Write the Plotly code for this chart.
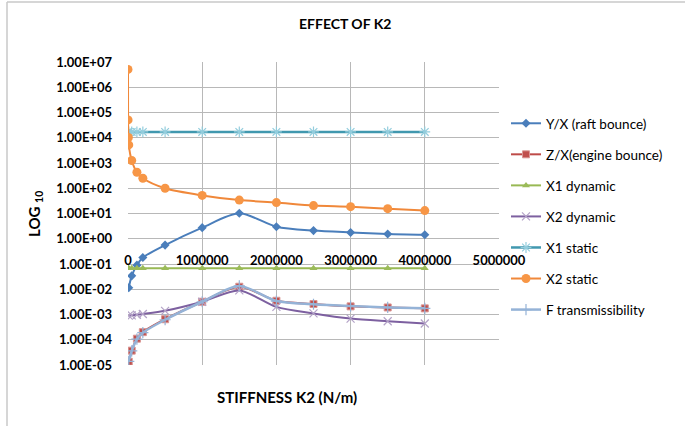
import plotly.graph_objects as go

k2 = [10, 1000, 5000, 10000, 50000, 120000, 200000, 500000,
      1000000, 1500000, 2000000, 2500000, 3000000, 3500000, 4000000]

yx_raft = [None, None, None, 0.0114, 0.034, 0.09, 0.18, 0.56,
           2.75, 10.2, 3.0, 2.1, 1.78, 1.55, 1.45]
zx_engine = [None, None, None, 1.35e-5, 3.7e-5, 1.1e-4, 2.0e-4, 6.5e-4,
             3.2e-3, 1.26e-2, 3.5e-3, 2.6e-3, 2.1e-3, 1.9e-3, 1.75e-3]
x1_dynamic = [0.068, 0.068, 0.068, 0.068, 0.068, 0.068, 0.068, 0.068,
              0.068, 0.068, 0.068, 0.068, 0.068, 0.068, 0.068]
x2_dynamic = [None, None, None, 9.0e-4, 9.3e-4, 9.8e-4, 1.05e-3, 1.4e-3,
              3.2e-3, 9.0e-3, 2.0e-3, 1.1e-3, 6.9e-4, 5.4e-4, 4.4e-4]
x1_static = [1.7e4, 1.7e4, 1.7e4, 1.7e4, 1.7e4, 1.7e4, 1.7e4, 1.7e4,
             1.7e4, 1.7e4, 1.7e4, 1.7e4, 1.7e4, 1.7e4, 1.7e4]
x2_static = [5.1e6, 5.1e4, 1.02e4, 5.2e3, 1.26e3, 430, 250, 100,
             52, 34, 27, 20.6, 18.6, 15.5, 13]
f_trans = [None, None, None, 1.4e-5, 3.6e-5, 1.05e-4, 1.9e-4, 6.2e-4,
           3.2e-3, 1.35e-2, 3.4e-3, 2.55e-3, 2.15e-3, 1.9e-3, 1.75e-3]

series_names = ["Y/X (raft bounce)", "Z/X(engine bounce)", "X1 dynamic", "X2 dynamic",
                "X1 static", "X2 static", "F transmissibility"]

x_tickvals = [0, 1000000, 2000000, 3000000, 4000000, 5000000]
x_ticktext = ["0", "1000000", "2000000", "3000000", "4000000", "5000000"]
y_tickvals = [1e-5, 1e-4, 1e-3, 1e-2, 1e-1, 1e0, 1e1, 1e2, 1e3, 1e4, 1e5, 1e6, 1e7]
y_ticktext = ["1.00E-05", "1.00E-04", "1.00E-03", "1.00E-02", "1.00E-01", "1.00E+00",
              "1.00E+01", "1.00E+02", "1.00E+03", "1.00E+04", "1.00E+05", "1.00E+06", "1.00E+07"]

FONT = "Lato, Carlito, Calibri, 'Liberation Sans', sans-serif"

styles = [
    dict(line=dict(color="#4A7EBB", width=2),
         marker=dict(symbol="diamond", size=7, color="#4A7EBB")),
    dict(line=dict(color="#BE4B48", width=2),
         marker=dict(symbol="square", size=7, color="#C0504D",
                     line=dict(color="#D99694", width=1))),
    dict(line=dict(color="#98B954", width=2),
         marker=dict(symbol="triangle-up", size=7, color="#9BBB59")),
    dict(line=dict(color="#7D60A0", width=2),
         marker=dict(symbol="x-thin-open", size=8, color="#B3A2C7",
                     line=dict(color="#B3A2C7", width=1.2))),
    dict(line=dict(color="#4198AF", width=2.5),
         marker=dict(symbol="asterisk-open", size=9, color="#93CDDD",
                     line=dict(color="#93CDDD", width=1.2))),
    dict(line=dict(color="#F0883A", width=2),
         marker=dict(symbol="circle", size=9, color="#F79646")),
    dict(line=dict(color="#95B3D7", width=2.5),
         marker=dict(symbol="cross-thin-open", size=8, color="#95B3D7",
                     line=dict(color="#95B3D7", width=1.2))),
]

data = [yx_raft, zx_engine, x1_dynamic, x2_dynamic, x1_static, x2_static, f_trans]

fig = go.Figure()
for i, (name, vals, st) in enumerate(zip(series_names, data, styles)):
    fig.add_trace(go.Scatter(
        x=k2, y=vals, name=name, mode="lines+markers",
        line=dict(shape="spline", smoothing=0.8, **st["line"]),
        marker=st["marker"], legendgroup=f"g{i}", connectgaps=False,
    ))

L, R, T, B = 128, 186, 62, 61
W, H = 685, 426
pw = W - L - R
ph = H - T - B

def px_x(p):
    return (p - L) / pw

def px_y(p):
    return (H - B - p) / ph

fig.update_layout(
    width=W, height=H,
    margin=dict(l=L, r=R, t=T, b=B, autoexpand=False),
    paper_bgcolor="white", plot_bgcolor="white",
    font=dict(family=FONT, color="black"),
    showlegend=True,
    legend=dict(x=px_x(506), y=px_y(108), xanchor="left", yanchor="top",
                traceorder="grouped", tracegroupgap=10.5,
                font=dict(family=FONT, size=13.5, color="black"),
                bgcolor="rgba(0,0,0,0)"),
    xaxis=dict(range=[0, 5000000], tickvals=x_tickvals, ticktext=x_ticktext,
               showgrid=True, gridcolor="#B8B8B8", gridwidth=1,
               zeroline=False, showline=False, ticks="",
               anchor="free", position=px_y(251),
               tickfont=dict(family=FONT, size=13, color="black", weight="bold")),
    yaxis=dict(type="log", range=[-5, 7], tickvals=y_tickvals, ticktext=y_ticktext,
               showgrid=True, gridcolor="#B8B8B8", gridwidth=1,
               zeroline=False, showline=False, ticks="", ticklabelstandoff=15,
               tickfont=dict(family=FONT, size=13, color="black", weight="bold")),
    annotations=[
        dict(text="<b>EFFECT OF K2</b>", x=px_x(345), y=px_y(23), xref="paper", yref="paper",
             xanchor="center", yanchor="middle",
             showarrow=False, font=dict(family=FONT, size=14, color="black")),
        dict(text="<b>STIFFNESS K2 (N/m)</b>", x=px_x(287), y=px_y(397), xref="paper", yref="paper",
             xanchor="center", yanchor="middle",
             showarrow=False, font=dict(family=FONT, size=15, color="black")),
        dict(text="<b>LOG <sub>10</sub></b>", x=px_x(35), y=px_y(214), xref="paper", yref="paper",
             xanchor="center", yanchor="middle",
             showarrow=False, textangle=-90, font=dict(family=FONT, size=15, color="black")),
    ],
    shapes=[
        dict(type="line", xref="paper", yref="paper", x0=px_x(7), x1=px_x(7), y0=px_y(2), y1=px_y(440),
             line=dict(color="#C8C8C8", width=1.5)),
        dict(type="line", xref="paper", yref="paper", x0=px_x(7), x1=px_x(690), y0=px_y(2), y1=px_y(2),
             line=dict(color="#C8C8C8", width=1.5)),
    ],
)

fig.write_html("out.html", config={"displayModeBar": False},
               post_script="document.body.style.margin='0';document.body.style.overflow='hidden';")
